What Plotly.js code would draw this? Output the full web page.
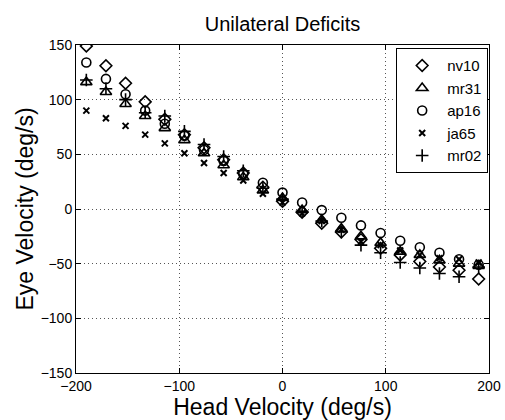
<!DOCTYPE html>
<html>
<head>
<meta charset="utf-8">
<script src="https://cdn.plot.ly/plotly-3.0.1.min.js"></script>
<style>html,body{margin:0;padding:0;background:#fff;}#chart{width:505px;height:420px;}</style>
</head>
<body>
<div id="chart"></div>
<script>
// Head velocity (deg/s)
const headVel = [-190,-171,-152,-133,-114,-95,-76,-57,-38,-19,0,19,38,57,76,95,114,133,152,171,190];
// Eye velocity (deg/s) per subject
const nv10 = [149,131,115,98,82,68,56,45,33,20,7,-3,-13,-21,-28,-36,-42,-48,-53,-56,-64];
const mr31 = [116,107,96,85,74,63,51,40,29,17,10,-1,-10,-18,-25,-31,-39,-42,-47,-50,-52];
const ap16 = [134,119,105,90,78,67,54,44,32,24,15,6,-1,-8,-15,-22,-29,-35,-40,-46,-51];
const ja65 = [90,83,76,68,60,51,42,33,26,14,6,-4,-11,-19,-30,-33,-38,-42,-45,-46,-49];
const mr02 = [118,110,100,88,85,71,59,48,35,19,9,-2,-11,-21,-33,-40,-49,-54,-59,-62,-53];

const names = ['nv10','mr31','ap16','ja65','mr02'];
const series = [nv10, mr31, ap16, ja65, mr02];
const symbols = ['diamond-open','triangle-up-open','circle-open','x-thin-open','cross-thin-open'];
const sizes = [9,10,9,6,9];
const widths = [1.6,1.6,1.6,2,1.6];

const traces = series.map((ys,i)=>({
  x: headVel, y: ys, name: names[i], type:'scatter', mode:'markers',
  marker:{symbol:symbols[i], size:sizes[i], color:'#000', line:{color:'#000', width:widths[i]}}
}));

const font = {family:'"Liberation Sans", Arial, sans-serif', color:'#000'};
const axisCommon = {
  showline:true, linecolor:'#000', linewidth:1, mirror:'allticks',
  ticks:'inside', ticklen:5, tickcolor:'#000',
  showgrid:true, gridcolor:'#555', griddash:'1px,3px', gridwidth:1,
  zeroline:false, tickfont:{...font, size:14}
};

const layout = {
  width:505, height:420,
  margin:{l:76, r:16, t:45, b:47},
  paper_bgcolor:'#fff', plot_bgcolor:'#fff',
  font: font,
  title:{text:'Unilateral Deficits', font:{...font, size:20}, x:0.5, xref:'paper', xanchor:'center', y:0.96, yref:'container'},
  xaxis:{...axisCommon, range:[-200,200], tickvals:[-200,-100,0,100,200],
    title:{text:'Head Velocity (deg/s)', font:{...font, size:23}, standoff:0}},
  yaxis:{...axisCommon, range:[-150,150], tickvals:[-150,-100,-50,0,50,100,150],
    title:{text:'Eye Velocity (deg/s)', font:{...font, size:23}, standoff:0}},
  showlegend:true,
  legend:{x:0.998, xanchor:'right', y:0.99, yanchor:'top', bgcolor:'#fff', bordercolor:'#000', borderwidth:1,
    font:{...font, size:15}, tracegroupgap:0, itemwidth:40}
};

Plotly.newPlot('chart', traces, layout, {displayModeBar:false, staticPlot:true});
</script>
</body>
</html>
